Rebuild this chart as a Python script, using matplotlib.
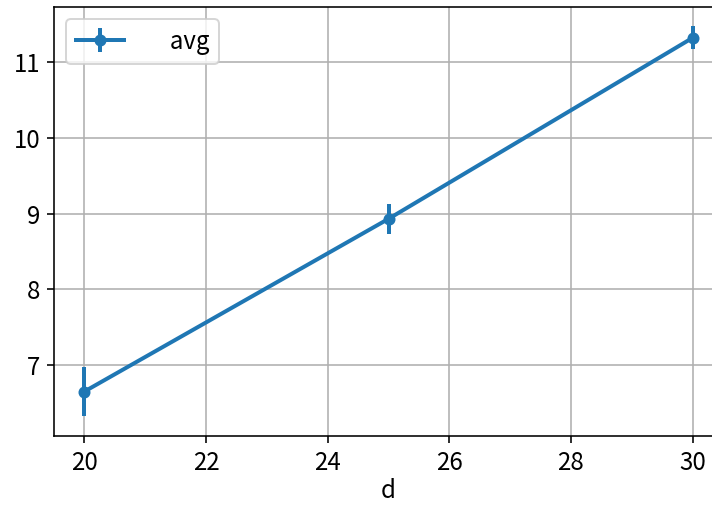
import matplotlib
matplotlib.use("Agg")
import matplotlib.pyplot as plt
import numpy as np

plt.rcParams['font.family'] = ['Noto Sans CJK JP', 'DejaVu Sans']
plt.rcParams['font.size'] = 12

d = [20, 25, 30]
avg = [6.65, 8.93, 11.32]
err = [0.33, 0.2, 0.15]

fig = plt.figure(figsize=(712 / 144, 508 / 144), dpi=144)
ax = fig.add_axes([54 / 712, 72 / 508, 669 / 712, 429 / 508])

ax.errorbar(d, avg, yerr=err, marker="o", ms=5, lw=2, elinewidth=2, label="     avg")
ax.set_xlabel("d", labelpad=1)
ax.grid(True)
ax.legend(loc="upper left")

fig.savefig("out.png", dpi=144)
